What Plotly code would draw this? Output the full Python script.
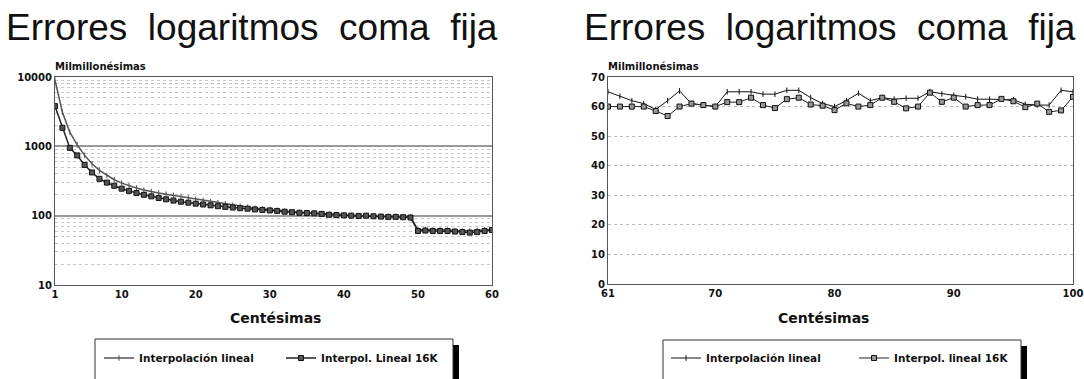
import plotly.graph_objects as go

# ---------------- data ----------------
title_text = "Errores logaritmos coma fija"
y_title = "Milmillonésimas"
x_title = "Centésimas"

left_x = list(range(1, 61))
left_lineal = [9000, 3100, 1600, 1050, 740, 560, 450, 380, 330, 295,
               270, 250, 235, 222, 212, 204, 196, 188, 180, 172,
               166, 160, 154, 148, 142, 137, 132, 128, 125, 122,
               119, 116, 114, 112, 110, 109, 107, 105, 104, 102,
               101, 100, 99.5, 99, 98, 97.5, 97, 96.5, 96, 63,
               63, 62, 62, 62, 61, 60, 60, 61, 62, 63]
left_16k = [3800, 1850, 950, 740, 540, 420, 340, 300, 270, 245,
            228, 212, 200, 190, 180, 172, 165, 159, 154, 149,
            145, 141, 137, 134, 131, 128, 126, 123, 121, 119,
            117, 114, 112, 110, 109, 108, 106, 103, 102, 101,
            100, 99, 100, 98, 97, 96, 96, 95, 94, 60,
            61, 60, 60, 60, 59, 58, 57, 58, 60, 62]

right_x = list(range(61, 101))
right_lineal = [65, 63.5, 62, 61, 59, 62, 65.3, 61, 60.5, 60,
                65, 65, 65, 64.2, 64.2, 65.5, 65.5, 63, 61, 60,
                62, 64.5, 62, 63, 62.5, 62.8, 62.8, 65, 64.3, 63.8,
                63.3, 62.5, 62.5, 62.5, 62.3, 60.8, 60.5, 60.5, 65.5, 65]
right_16k = [60, 60, 60, 60, 58.5, 56.8, 60, 61, 60.5, 60,
             61.5, 61.5, 63, 60.5, 59.5, 62.5, 63, 60.7, 60.3, 58.8,
             61.1, 60, 60.5, 63, 61.6, 59.4, 60, 64.7, 61.6, 63,
             60, 60.5, 60.5, 62.6, 61.8, 59.8, 61, 58.2, 58.7, 63.3]

left_xticks = [1, 10, 20, 30, 40, 50, 60]
right_xticks = [61, 70, 80, 90, 100]
left_yticks = [10, 100, 1000, 10000]
left_yticklabels = ["10", "100", "1000", "10000"]
right_yticks = [0, 10, 20, 30, 40, 50, 60, 70]

name_a = "Interpolación lineal"
name_b_left = "Interpol. Lineal 16K"
name_b_right = "Interpol. lineal 16K"

# ---------------- figure ----------------
W, H = 1084, 379
def px(x):
    return x / W
def py(y):
    return 1 - y / H

SMALL = "DejaVu Sans"
fig = go.Figure()

fig.add_trace(go.Scatter(x=left_x, y=left_lineal, name=name_a, mode="lines+markers",
                         line=dict(color="#555555", width=1.5),
                         marker=dict(symbol="line-ns", size=4, line=dict(color="#555555", width=1)),
                         xaxis="x", yaxis="y", legend="legend"))
fig.add_trace(go.Scatter(x=left_x, y=left_16k, name=name_b_left, mode="lines+markers",
                         line=dict(color="#222222", width=1.5),
                         marker=dict(symbol="square", size=5, color="#555555",
                                     line=dict(color="#111111", width=1)),
                         xaxis="x", yaxis="y", legend="legend"))
fig.add_trace(go.Scatter(x=right_x, y=right_lineal, name=name_a, mode="lines+markers",
                         line=dict(color="#111111", width=1),
                         marker=dict(symbol="line-ns", size=4, line=dict(color="#111111", width=1)),
                         xaxis="x2", yaxis="y2", legend="legend2"))
fig.add_trace(go.Scatter(x=right_x, y=right_16k, name=name_b_right, mode="lines+markers",
                         line=dict(color="#222222", width=1),
                         marker=dict(symbol="square", size=5, color="#999999",
                                     line=dict(color="#111111", width=1)),
                         xaxis="x2", yaxis="y2", legend="legend2"))

tickfont = dict(family=SMALL, size=10, color="#111", weight="bold")
legfont = dict(family=SMALL, size=10.5, color="#111", weight="bold")

fig.update_layout(
    width=W, height=H, margin=dict(l=0, r=0, t=0, b=0, autoexpand=False),
    paper_bgcolor="white", plot_bgcolor="white",
    xaxis=dict(domain=[px(55), px(492)], range=[1, 60], tickvals=left_xticks,
               showgrid=False, showline=True, linecolor="#555", mirror=True, linewidth=1,
               ticks="", tickfont=tickfont, zeroline=False, anchor="y"),
    yaxis=dict(domain=[py(285), py(77)], type="log", range=[1, 4], tickvals=left_yticks,
               ticktext=left_yticklabels,
               showgrid=True, gridcolor="#999999", gridwidth=1.5,
               minor=dict(showgrid=True, dtick="D1", gridcolor="#c8c8c8", griddash="dot", gridwidth=1),
               showline=True, linecolor="#555", mirror=True, linewidth=1,
               ticks="", tickfont=tickfont, zeroline=False, anchor="x"),
    xaxis2=dict(domain=[px(608), px(1073)], range=[61, 100], tickvals=right_xticks,
                showgrid=False, showline=True, linecolor="#555", mirror=True, linewidth=1,
                ticks="", tickfont=tickfont, zeroline=False, anchor="y2"),
    yaxis2=dict(domain=[py(284), py(77)], range=[0, 70], tickvals=right_yticks,
                showgrid=True, gridcolor="#bbbbbb", griddash="dot", gridwidth=1,
                showline=True, linecolor="#555", mirror=True, linewidth=1,
                ticks="", tickfont=tickfont, zeroline=False, anchor="x2"),
    legend=dict(orientation="h", x=px(99), y=py(358), xanchor="left", yanchor="middle",
                bgcolor="rgba(0,0,0,0)", font=legfont,
                entrywidth=137, entrywidthmode="pixels", itemwidth=30),
    legend2=dict(orientation="h", x=px(666), y=py(358), xanchor="left", yanchor="middle",
                 bgcolor="rgba(0,0,0,0)", font=legfont,
                 entrywidth=143, entrywidthmode="pixels", itemwidth=30),
    showlegend=True,
)

shapes = []
for (bx0, bx1, by0) in [(95, 453, 339), (663, 1021, 340)]:
    shapes.append(dict(type="rect", xref="paper", yref="paper",
                       x0=px(bx0 + 5), x1=px(bx1 + 6), y0=py(H + 20), y1=py(by0 + 6),
                       fillcolor="black", line=dict(width=0), layer="above"))
    shapes.append(dict(type="rect", xref="paper", yref="paper",
                       x0=px(bx0), x1=px(bx1), y0=py(H + 20), y1=py(by0),
                       fillcolor="white", line=dict(color="#333", width=1), layer="above"))
fig.update_layout(shapes=shapes)

annotations = []
for cx in [252, 830]:
    annotations.append(dict(text=title_text.replace(" ", " \u00a0"), x=px(cx), y=py(27),
                            xref="paper", yref="paper", showarrow=False,
                            xanchor="center", yanchor="middle",
                            font=dict(family="Liberation Sans, Arial", size=37, color="#111")))
for lx in [53, 606]:
    annotations.append(dict(text=y_title, x=px(lx), y=py(66), xref="paper", yref="paper",
                            showarrow=False, xanchor="left", yanchor="middle",
                            font=dict(family=SMALL, size=10, color="#111", weight="bold")))
for cx in [275, 823]:
    annotations.append(dict(text=x_title, x=px(cx), y=py(318), xref="paper", yref="paper",
                            showarrow=False, xanchor="center", yanchor="middle",
                            font=dict(family=SMALL, size=14, color="#111", weight="bold")))
fig.update_layout(annotations=annotations)

fig.write_html("out.html", config={"displayModeBar": False},
               post_script="document.body.style.margin='0px';document.body.style.overflow='hidden';")
